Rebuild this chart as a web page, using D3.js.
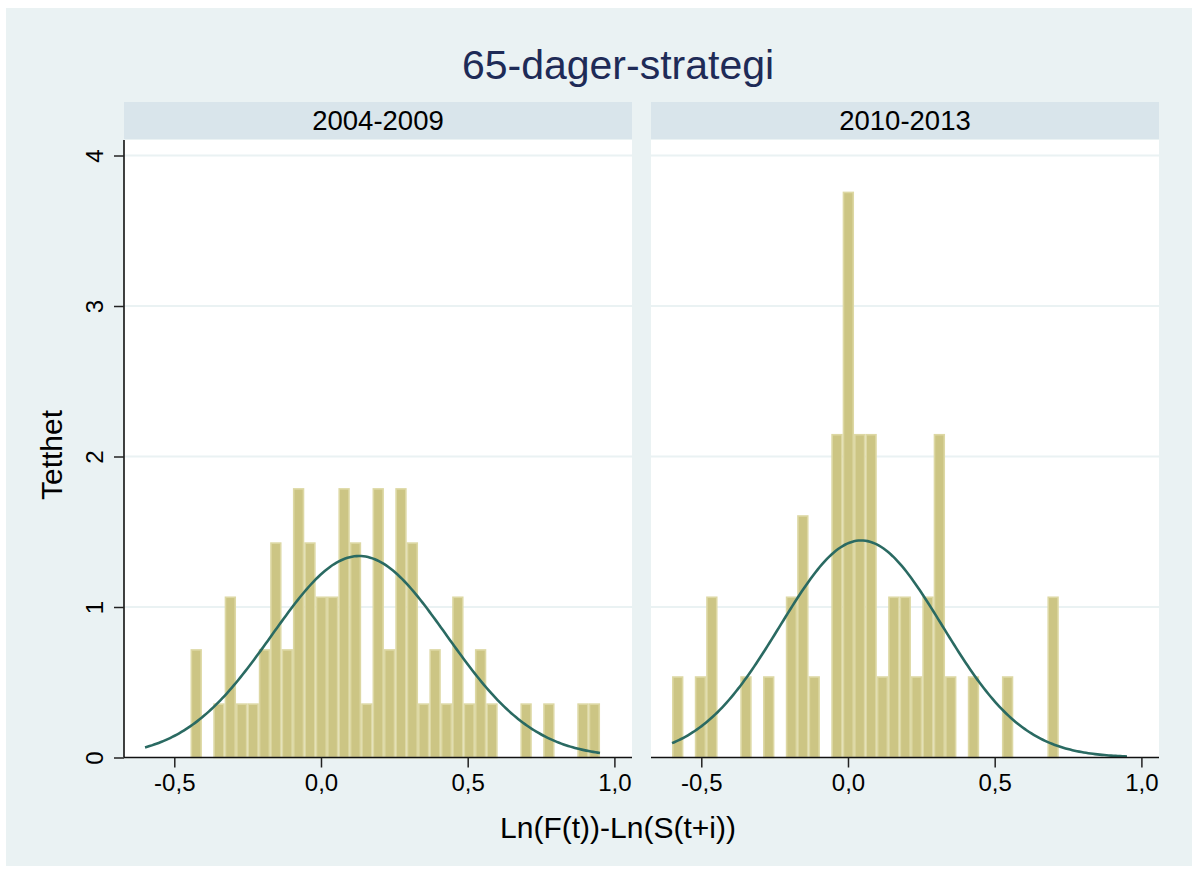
<!DOCTYPE html>
<html>
<head>
<meta charset="utf-8">
<script src="https://cdn.jsdelivr.net/npm/d3@7"></script>
<style>
  html, body { margin: 0; padding: 0; background: #ffffff; }
  svg { display: block; font-family: "Liberation Sans", Arial, sans-serif; }
</style>
</head>
<body>
<svg id="chart" width="1198" height="870"></svg>
<script>
// ---------------- data ----------------
const titleText = "65-dager-strategi";
const panelLabels = ["2004-2009", "2010-2013"];
const xAxisTitle = "Ln(F(t))-Ln(S(t+i))";
const yAxisTitle = "Tetthet";
const xTickValues = [-0.5, 0, 0.5, 1.0];
const xTickLabels = ["-0,5", "0,0", "0,5", "1,0"];
const yTickValues = [0, 1, 2, 3, 4];
const yTickLabels = ["0", "1", "2", "3", "4"];

// histogram bins (common to both panels)
const binStart = -0.5997;
const binWidth = 0.03877;

// density per bin (40 bins)
const density2004 = [0, 0, 0, 0, 0.72, 0, 0.36, 1.07, 0.36, 0.36,
                     0.72, 1.43, 0.72, 1.79, 1.43, 1.07, 1.07, 1.79, 1.43, 0.36,
                     1.79, 0.72, 1.79, 1.43, 0.36, 0.72, 0.36, 1.07, 0.36, 0.72,
                     0.36, 0, 0, 0.36, 0, 0.36, 0, 0, 0.36, 0.36];
const density2010 = [0.54, 0, 0.54, 1.07, 0, 0, 0.54, 0, 0.54, 0,
                     1.07, 1.61, 0.54, 0, 2.15, 3.76, 2.15, 2.15, 0.54, 1.07,
                     1.07, 0.54, 1.07, 2.15, 0.54, 0, 0.54, 0, 0, 0.54,
                     0, 0, 0, 1.07, 0, 0, 0, 0, 0, 0];

// normal density overlays: mean and sd
const normalMean = [0.13, 0.045];
const normalSd = [0.298, 0.2766];
const curveRange = [-0.5997, 0.9509];

const densities = [density2004, density2010];

// ---------------- layout ----------------
const svg = d3.select("#chart");
const W = 1198, H = 870;
const panelX = [[124, 632], [651, 1159]];
const plotTop = 140, plotBottom = 757.5;
const headerTop = 102, headerBottom = 139;
const xDomain = [-0.6714, 1.06];
const yDomain = [0, 4.103];

const colBg = "#EAF2F3";
const colHeader = "#D9E5EB";
const colGrid = "#EAF2F3";
const colBar = "#CCC584";
const colBarEdge = "#DDD8A4";
const colCurve = "#2A6A62";

svg.append("rect").attr("x", 0).attr("y", 0).attr("width", W).attr("height", H).attr("fill", "#ffffff");
svg.append("rect").attr("x", 6).attr("y", 8).attr("width", 1186).attr("height", 858).attr("fill", colBg);

// title
svg.append("text")
  .attr("x", 618).attr("y", 79)
  .attr("text-anchor", "middle")
  .attr("font-size", 41)
  .attr("fill", "#1E2B57")
  .text(titleText);

const y = d3.scaleLinear().domain(yDomain).range([plotBottom, plotTop]);

panelX.forEach((px, i) => {
  const x = d3.scaleLinear().domain(xDomain).range(px);
  const g = svg.append("g");

  // header strip
  g.append("rect")
    .attr("x", px[0]).attr("y", headerTop)
    .attr("width", px[1] - px[0]).attr("height", headerBottom - headerTop)
    .attr("fill", colHeader);
  g.append("text")
    .attr("x", (px[0] + px[1]) / 2).attr("y", 129.5)
    .attr("text-anchor", "middle")
    .attr("font-size", 27.5)
    .attr("fill", "#000")
    .text(panelLabels[i]);

  // plot area
  g.append("rect")
    .attr("x", px[0]).attr("y", plotTop)
    .attr("width", px[1] - px[0]).attr("height", plotBottom - plotTop)
    .attr("fill", "#ffffff");

  // gridlines
  g.selectAll("line.grid")
    .data(yTickValues.filter(v => v > 0))
    .enter().append("line")
    .attr("class", "grid")
    .attr("x1", px[0]).attr("x2", px[1])
    .attr("y1", d => y(d)).attr("y2", d => y(d))
    .attr("stroke", colGrid).attr("stroke-width", 2);

  // bars
  const bins = densities[i].map((d, k) => ({
    x0: binStart + k * binWidth,
    x1: binStart + (k + 1) * binWidth,
    d: d
  })).filter(b => b.d > 0);

  g.selectAll("rect.bar")
    .data(bins)
    .enter().append("rect")
    .attr("class", "bar")
    .attr("x", b => x(b.x0) + 0.8)
    .attr("width", b => x(b.x1) - x(b.x0) - 1.6)
    .attr("y", b => y(b.d) + 0.8)
    .attr("height", b => y(0) - y(b.d) - 0.8)
    .attr("fill", colBar)
    .attr("stroke", colBarEdge)
    .attr("stroke-width", 1.6);

  // normal curve
  const n = 200;
  const pts = d3.range(n + 1).map(j => {
    const xv = curveRange[0] + (curveRange[1] - curveRange[0]) * j / n;
    const z = (xv - normalMean[i]) / normalSd[i];
    return [xv, Math.exp(-0.5 * z * z) / (normalSd[i] * Math.sqrt(2 * Math.PI))];
  });
  g.append("path")
    .datum(pts)
    .attr("d", d3.line().x(p => x(p[0])).y(p => y(p[1])))
    .attr("fill", "none")
    .attr("stroke", colCurve)
    .attr("stroke-width", 2.6);

  // x axis
  const xAxis = d3.axisBottom(x)
    .tickValues(xTickValues)
    .tickFormat((d, j) => xTickLabels[j])
    .tickSizeInner(10).tickSizeOuter(0).tickPadding(6);
  const xg = g.append("g").attr("transform", `translate(0,${plotBottom})`).call(xAxis);
  xg.select(".domain").attr("stroke", "#111").attr("stroke-width", 1.6)
    .attr("d", `M${px[0]},0H${px[1]}`);
  xg.selectAll(".tick line").attr("stroke", "#222").attr("stroke-width", 1.5);
  xg.selectAll(".tick text")
    .attr("font-size", 24)
    .attr("font-family", "Liberation Sans, Arial, sans-serif")
    .attr("fill", "#000");

  // y axis only on left panel
  if (i === 0) {
    const yAxis = d3.axisLeft(y)
      .tickValues(yTickValues)
      .tickFormat((d, j) => yTickLabels[j])
      .tickSizeInner(10).tickSizeOuter(0).tickPadding(0);
    const yg = g.append("g").attr("transform", `translate(${px[0]},0)`).call(yAxis);
    yg.select(".domain").attr("stroke", "#111").attr("stroke-width", 1.6)
      .attr("d", `M0,${plotTop}V${plotBottom}`);
    yg.selectAll(".tick line").attr("stroke", "#222").attr("stroke-width", 1.5);
    yg.selectAll(".tick text")
      .attr("font-size", 24)
      .attr("font-family", "Liberation Sans, Arial, sans-serif")
      .attr("fill", "#000")
      .attr("text-anchor", "middle")
      .attr("dy", null)
      .attr("x", null)
      .attr("transform", "translate(-21,0) rotate(-90)")
      .attr("y", 0)
      .attr("dominant-baseline", "auto")
      .attr("dy", "0");
  }
});

// axis titles
svg.append("text")
  .attr("x", 618).attr("y", 838)
  .attr("text-anchor", "middle")
  .attr("font-size", 30)
  .attr("fill", "#000")
  .text(xAxisTitle);

svg.append("text")
  .attr("transform", "translate(61.5,455) rotate(-90)")
  .attr("text-anchor", "middle")
  .attr("font-size", 30)
  .attr("fill", "#000")
  .text(yAxisTitle);
</script>
</body>
</html>
